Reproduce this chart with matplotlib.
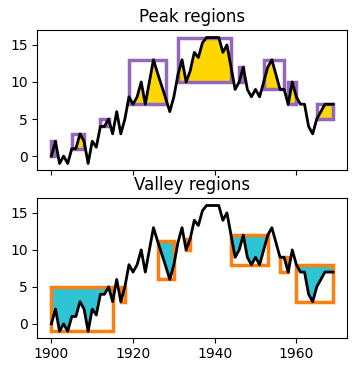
import matplotlib
matplotlib.use("Agg")
import matplotlib.pyplot as plt
from matplotlib.patches import Rectangle
import numpy as np

years = list(range(1900, 1970))
values = [0, 2, -1, 0, -1, 1, 1, 3, 2, -1,
          2, 1.2, 4, 4, 5, 3, 6, 3, 5, 8,
          7, 8, 10, 7, 10, 13, 11.2, 9.5, 7.8, 6,
          8, 11, 13, 10, 11.5, 14, 13.3, 15.3, 16, 16,
          16, 16, 14, 15, 12, 9, 10, 12, 9, 8,
          9, 8, 10, 12, 13, 11, 9, 9, 7, 10,
          8, 7, 7, 4, 3, 5, 6, 7, 7, 7]

peak_regions = [(1900, 1901), (1905, 1908), (1912, 1914), (1919, 1928),
                (1931, 1944), (1946, 1947), (1952, 1957), (1958, 1960),
                (1965, 1969)]
valley_regions = [(1900, 1915), (1917, 1918), (1926, 1930), (1933, 1934),
                  (1944, 1953), (1956, 1958), (1960, 1969)]

x = np.array(years)
y = np.array(values, dtype=float)

fig = plt.figure(figsize=(3.57, 3.72), dpi=100)
ax1 = fig.add_axes([0.1045, 0.543, 0.868, 0.376])
ax2 = fig.add_axes([0.1045, 0.092, 0.868, 0.3755], sharex=ax1)


def draw(ax, regions, kind):
    for s, e in regions:
        m = (x >= s) & (x <= e)
        xs, ys = x[m], y[m]
        lo, hi = ys.min(), ys.max()
        if kind == "peak":
            ax.fill_between(xs, ys, lo, color="gold", zorder=1, linewidth=0)
            ec = "tab:purple"
        else:
            ax.fill_between(xs, ys, hi, color="#2ec4d4", zorder=1, linewidth=0)
            ec = "tab:orange"
        ax.add_patch(Rectangle((s, lo), e - s, hi - lo, fill=False,
                               edgecolor=ec, linewidth=2.5, zorder=2))
    ax.plot(x, y, color="black", linewidth=2, zorder=3)
    ax.set_xlim(1896.55, 1972.45)
    ax.set_ylim(-1.88, 17.0)
    ax.set_yticks([0, 5, 10, 15])


draw(ax1, peak_regions, "peak")
draw(ax2, valley_regions, "valley")
ax1.set_title("Peak regions", fontsize=12)
ax2.set_title("Valley regions", fontsize=12)
ax1.set_xticks([1900, 1920, 1940, 1960])
plt.setp(ax1.get_xticklabels(), visible=False)

fig.savefig("out.png", dpi=100)
